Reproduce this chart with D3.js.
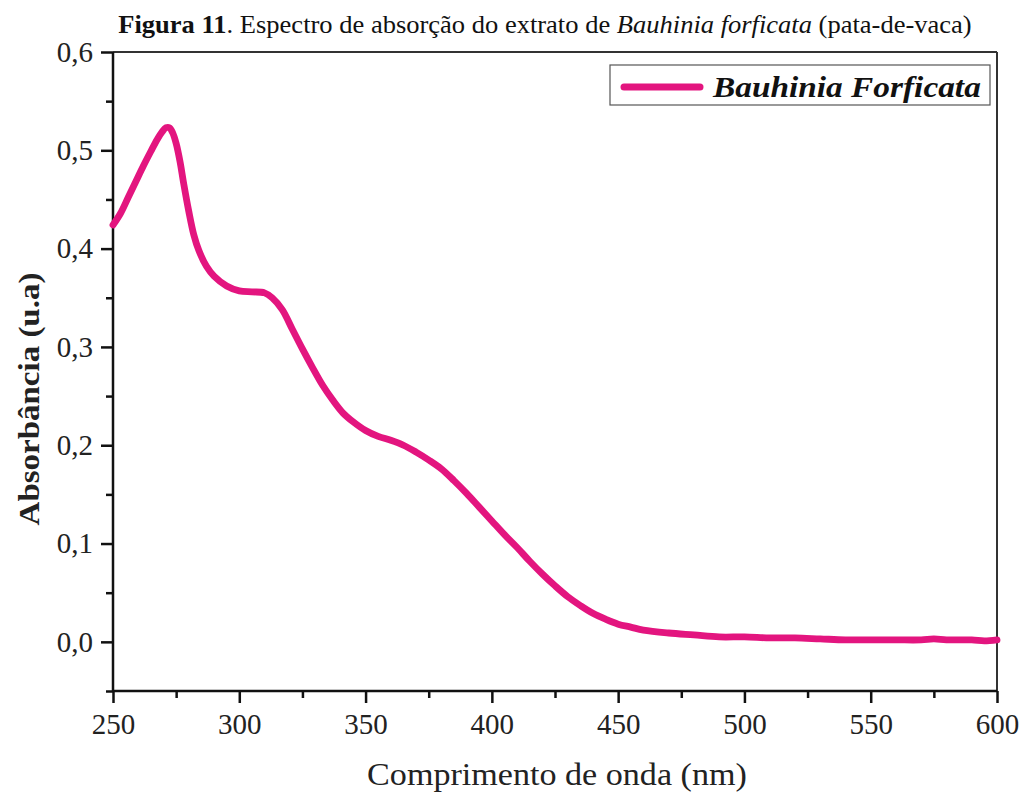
<!DOCTYPE html>
<html>
<head>
<meta charset="utf-8">
<script src="https://cdn.jsdelivr.net/npm/d3@7"></script>
<style>
  html, body { margin: 0; padding: 0; background: #fff; }
  svg { display: block; }
</style>
</head>
<body>
<svg id="chart" width="1024" height="796"></svg>
<script>
// ---- data ----
const wavelength = [250,253,256,259,262,265,267.5,269.5,271,272.3,273.6,275,276.5,278,280,282,284,287,290,295,300,305,310,313,317,321,325,329,333,337,341,345,350,355,360,365,370,375,380,385,390,395,400,405,410,415,420,425,430,435,440,445,450,455,460,470,480,490,500,510,520,530,540,550,560,570,575,580,590,595,600];
const absorbance = [0.424,0.436,0.452,0.468,0.484,0.499,0.511,0.519,0.523,0.523,0.518,0.507,0.489,0.466,0.438,0.414,0.398,0.382,0.372,0.362,0.357,0.356,0.355,0.350,0.338,0.318,0.298,0.279,0.261,0.246,0.233,0.224,0.215,0.209,0.205,0.200,0.193,0.185,0.176,0.164,0.151,0.137,0.123,0.109,0.096,0.082,0.069,0.057,0.046,0.037,0.029,0.023,0.018,0.015,0.012,0.009,0.007,0.005,0.005,0.004,0.004,0.003,0.002,0.002,0.002,0.002,0.003,0.002,0.002,0.001,0.002];
const xMajorTicks = [250,300,350,400,450,500,550,600];
const xMinorTicks = [275,325,375,425,475,525,575];
const yMajorTicks = [0.0,0.1,0.2,0.3,0.4,0.5,0.6];
const yMinorTicks = [-0.05,0.05,0.15,0.25,0.35,0.45,0.55];
const seriesName = "Bauhinia Forficata";
const xTitle = "Comprimento de onda (nm)";
const yTitle = "Absorbância (u.a)";

// ---- layout ----
const svg = d3.select("#chart");
const L = 113, R = 997, T = 52, B = 691;
const x = d3.scaleLinear().domain([250, 600]).range([L, R]);
const y = d3.scaleLinear().domain([-0.05, 0.6]).range([B, T]);
const serif = '"Liberation Serif", "Times New Roman", Times, serif';
const pink = "#e3157f";

function fitWidth(sel, target, cx, cy) {
  const w = sel.node().getBBox().width;
  const s = target / w;
  sel.attr("transform", `translate(${cx},${cy}) scale(${s},1) translate(${-cx},${-cy})`);
}

// title
const title = svg.append("text")
  .attr("x", 545).attr("y", 33)
  .attr("text-anchor", "middle")
  .style("font-family", serif).style("font-size", "26px").attr("fill", "#111");
title.append("tspan").style("font-weight", "bold").text("Figura 11");
title.append("tspan").text(". Espectro de absorção do extrato de ");
title.append("tspan").style("font-style", "italic").text("Bauhinia forficata");
title.append("tspan").text(" (pata-de-vaca)");
fitWidth(title, 854, 545, 33);

// frame (top & right)
svg.append("line").attr("x1", L).attr("x2", R).attr("y1", T).attr("y2", T)
  .attr("stroke", "#333").attr("stroke-width", 2);
svg.append("line").attr("x1", R).attr("x2", R).attr("y1", T).attr("y2", B)
  .attr("stroke", "#333").attr("stroke-width", 2);

// axes
const fmt = d => d3.format(".1f")(d).replace(".", ",");
const gx = svg.append("g").attr("transform", `translate(0,${B})`);
gx.call(d3.axisBottom(x).tickValues(xMajorTicks).tickSize(12).tickPadding(10).tickFormat(d3.format("d")));
const gxm = svg.append("g").attr("transform", `translate(0,${B})`);
gxm.call(d3.axisBottom(x).tickValues(xMinorTicks).tickSize(7).tickFormat(""));
const gy = svg.append("g").attr("transform", `translate(${L},0)`);
gy.call(d3.axisLeft(y).tickValues(yMajorTicks).tickSize(12).tickPadding(8).tickFormat(fmt));
const gym = svg.append("g").attr("transform", `translate(${L},0)`);
gym.call(d3.axisLeft(y).tickValues(yMinorTicks).tickSize(7).tickFormat(""));

[gx, gxm, gy, gym].forEach(g => {
  g.attr("font-family", null);
  g.select(".domain").attr("stroke", "#111").attr("stroke-width", 2.5);
  g.selectAll(".tick line").attr("stroke", "#111").attr("stroke-width", 2.5);
  g.selectAll(".tick text").style("font-family", serif).style("font-size", "29px").attr("fill", "#222");
});
gx.select(".domain").attr("d", `M${L},0H${R}`);
gxm.select(".domain").remove();
gym.select(".domain").remove();
gy.select(".domain").attr("d", `M0,${T}V${B}`);

// axis titles
const xt = svg.append("text").attr("x", 557).attr("y", 785).attr("text-anchor", "middle")
  .style("font-family", serif).style("font-size", "31px").attr("fill", "#222").text(xTitle);
fitWidth(xt, 380, 557, 785);

const yt = svg.append("text").attr("text-anchor", "middle")
  .attr("x", 0).attr("y", 0)
  .style("font-family", serif).style("font-size", "29px").style("font-weight", "bold")
  .attr("fill", "#222").text(yTitle);
{
  const w = yt.node().getBBox().width;
  const s = 253 / w;
  yt.attr("transform", `translate(39,399) rotate(-90) scale(${s},1)`);
}

// curve
const data = wavelength.map((w, i) => ({ w, a: absorbance[i] }));
svg.append("path").datum(data)
  .attr("fill", "none").attr("stroke", pink).attr("stroke-width", 6.8)
  .attr("stroke-linejoin", "round").attr("stroke-linecap", "round")
  .attr("d", d3.line().x(d => x(d.w)).y(d => y(d.a)).curve(d3.curveCatmullRom.alpha(0.5)));

// legend
const lg = svg.append("g");
lg.append("rect").attr("x", 610).attr("y", 65).attr("width", 380).attr("height", 40)
  .attr("fill", "#fff").attr("stroke", "#555").attr("stroke-width", 1.2);
lg.append("line").attr("x1", 624).attr("x2", 700).attr("y1", 87).attr("y2", 87)
  .attr("stroke", pink).attr("stroke-width", 7).attr("stroke-linecap", "round");
const lt = lg.append("text").attr("x", 713).attr("y", 97)
  .style("font-family", serif).style("font-size", "29px").style("font-weight", "bold").style("font-style", "italic")
  .attr("fill", "#111").text(seriesName);
{
  const w = lt.node().getBBox().width;
  const s = 269 / w;
  lt.attr("transform", `translate(713,97) scale(${s},1) translate(-713,-97)`);
}
</script>
</body>
</html>
